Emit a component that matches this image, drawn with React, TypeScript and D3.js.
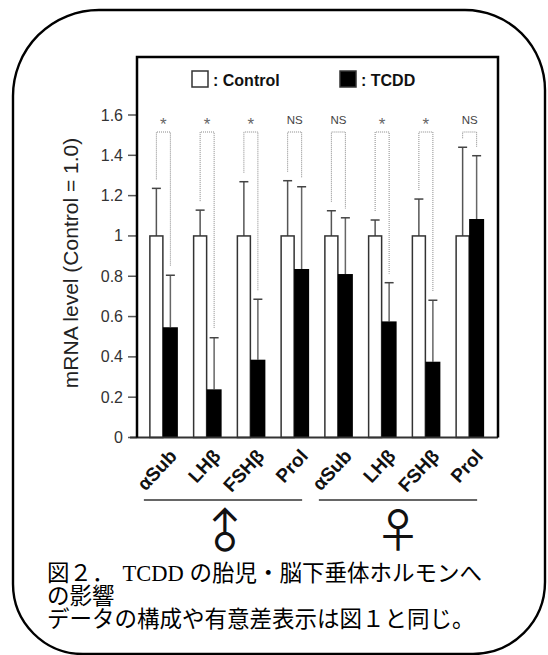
import React from "react";
import * as d3 from "d3";

const categories = ["αSub", "LHβ", "FSHβ", "Prol", "αSub", "LHβ", "FSHβ", "Prol"];
const controlValues = [1, 1, 1, 1, 1, 1, 1, 1];
const controlErrTop = [1.236, 1.128, 1.269, 1.274, 1.125, 1.079, 1.183, 1.44];
const tcddValues = [0.547, 0.239, 0.386, 0.836, 0.811, 0.576, 0.376, 1.084];
const tcddErrTop = [0.805, 0.495, 0.686, 1.244, 1.09, 0.768, 0.681, 1.398];
const significance = ["*", "*", "*", "NS", "NS", "*", "*", "NS"];
const yTicks = [0, 0.2, 0.4, 0.6, 0.8, 1, 1.2, 1.4, 1.6];
const sexGroups = [
  { symbol: "♂", from: 0, to: 3 },
  { symbol: "♀", from: 4, to: 7 },
];
const legendItems = [
  { label: ": Control", fill: "#fff" },
  { label: ": TCDD", fill: "#000" },
];
const captionHead = "図２．";
const captionLine1 = "TCDD の胎児・脳下垂体ホルモンへ";
const captionLine2 = "の影響";
const captionLine3 = "データの構成や有意差表示は図１と同じ。";

const SANS = "'Liberation Sans', Arial, Helvetica, sans-serif";
const CAPTION_FONT = "'Liberation Serif', 'Noto Sans CJK JP', serif";

export default function App() {
  const W = 548;
  const H = 655;
  const left = 137;
  const right = 498;
  const top = 57;
  const bottom = 437.5;

  const x = d3
    .scaleBand<number>()
    .domain(categories.map((_, i) => i))
    .range([141, 491])
    .padding(0);
  const y = d3.scaleLinear().domain([0, 1.6]).range([bottom, 115]);
  const fmt = d3.format("~g");

  const cx = (i: number) => (x(i) as number) + x.bandwidth() / 2;
  const cW = 13;
  const tW = 15;
  const cap = 9;
  const bracketTop = 132;

  const bx0 = 13, by0 = 10, bx1 = 545, by1 = 654;
  const rTL = 86, rTR = 80, rBL = 70, rBR = 72;
  const border = `M${bx0 + rTL},${by0} L${bx1 - rTR},${by0} A${rTR},${rTR} 0 0 1 ${bx1},${by0 + rTR} L${bx1},${by1 - rBR} A${rBR},${rBR} 0 0 1 ${bx1 - rBR},${by1} L${bx0 + rBL},${by1} A${rBL},${rBL} 0 0 1 ${bx0},${by1 - rBL} L${bx0},${by0 + rTL} A${rTL},${rTL} 0 0 1 ${bx0 + rTL},${by0} Z`;

  return (
    <svg
      width={W}
      height={H}
      style={{ position: "absolute", left: 0, top: 0, background: "#fff" }}
    >
      <rect x={0} y={0} width={W} height={H} fill="#fff" />
      <path d={border} fill="none" stroke="#000" strokeWidth={2.4} />

      {legendItems.map((d, i) => (
        <g key={i} transform={`translate(${192 + i * 148},71)`}>
          <rect x={0} y={0} width={16} height={16} fill={d.fill} stroke="#333" strokeWidth={1.5} />
          <text x={21} y={14.5} fontFamily={SANS} fontWeight="bold" fontSize={16} fill="#111">
            {d.label}
          </text>
        </g>
      ))}

      {yTicks.map((t) => (
        <g key={t}>
          <line x1={128} x2={left} y1={y(t)} y2={y(t)} stroke="#555" strokeWidth={1.5} />
          <text
            x={123}
            y={y(t) + 5.5}
            textAnchor="end"
            fontFamily={SANS}
            fontSize={16}
            fill="#333"
          >
            {fmt(t)}
          </text>
        </g>
      ))}

      <text
        transform={`translate(78,263) rotate(-90)`}
        textAnchor="middle"
        fontFamily={SANS}
        fontSize={21}
        fill="#222"
      >
        mRNA level (Control = 1.0)
      </text>

      {categories.map((_, i) => {
        const c = cx(i);
        const ccx = c - cW / 2;
        const tcx = c + tW / 2;
        return (
          <g key={i}>
            <line x1={ccx} x2={ccx} y1={y(controlValues[i])} y2={y(controlErrTop[i])} stroke="#555" strokeWidth={1.5} />
            <line x1={ccx - cap / 2} x2={ccx + cap / 2} y1={y(controlErrTop[i])} y2={y(controlErrTop[i])} stroke="#444" strokeWidth={1.5} />
            <line x1={tcx} x2={tcx} y1={y(tcddValues[i])} y2={y(tcddErrTop[i])} stroke="#666" strokeWidth={1.5} />
            <line x1={tcx - cap / 2} x2={tcx + cap / 2} y1={y(tcddErrTop[i])} y2={y(tcddErrTop[i])} stroke="#444" strokeWidth={1.5} />
            <rect
              x={c - cW}
              y={y(controlValues[i])}
              width={cW}
              height={bottom - y(controlValues[i])}
              fill="#fff"
              stroke="#333"
              strokeWidth={1.5}
            />
            <rect
              x={c}
              y={y(tcddValues[i])}
              width={tW}
              height={bottom - y(tcddValues[i])}
              fill="#000"
            />
            <path
              d={`M${ccx},${y(controlErrTop[i]) - 9} L${ccx},${bracketTop} L${tcx},${bracketTop} L${tcx},${y(tcddErrTop[i]) - 9}`}
              fill="none"
              stroke="#888"
              strokeWidth={1}
              strokeDasharray="1,1"
            />
            {significance[i] === "*" ? (
              <text x={(ccx + tcx) / 2} y={130} textAnchor="middle" fontFamily={SANS} fontSize={17} fill="#666">
                *
              </text>
            ) : (
              <text x={(ccx + tcx) / 2} y={123.5} textAnchor="middle" fontFamily={SANS} fontSize={11.5} fill="#444">
                NS
              </text>
            )}
            <text
              transform={`translate(${c + 15},457) rotate(-47)`}
              textAnchor="end"
              fontFamily={SANS}
              fontWeight="bold"
              fontSize={19}
              fill="#111"
            >
              {categories[i]}
            </text>
          </g>
        );
      })}

      <line x1={130} x2={right} y1={bottom} y2={bottom} stroke="#333" strokeWidth={2} />
      <path d={`M${left},${bottom} L${left},${top} L${right},${top} L${right},${bottom}`} fill="none" stroke="#000" strokeWidth={2.5} />

      {sexGroups.map((g, i) => {
        const x0 = cx(g.from) - 19;
        const x1 = cx(g.to) + 8;
        const mid = (x0 + x1) / 2;
        return (
          <g key={i}>
            <line x1={x0} x2={x1} y1={500} y2={500} stroke="#333" strokeWidth={1.5} />
            <text
              transform={g.symbol === "♂" ? `translate(${mid},529) rotate(-45)` : `translate(${mid},527)`}
              textAnchor="middle"
              dominantBaseline="central"
              fontFamily="'Noto Sans CJK JP'"
              fontSize={46}
              fill="#111"
            >
              {g.symbol}
            </text>
          </g>
        );
      })}

      <text x={47} y={581} fontFamily={CAPTION_FONT} fontSize={22.5} fill="#000">
        {captionHead}
        <tspan dx={8}>{captionLine1}</tspan>
      </text>
      <text x={47} y={604} fontFamily={CAPTION_FONT} fontSize={22.5} fill="#000">
        {captionLine2}
      </text>
      <text x={47} y={627} fontFamily={CAPTION_FONT} fontSize={22.5} fill="#000">
        {captionLine3}
      </text>
    </svg>
  );
}
